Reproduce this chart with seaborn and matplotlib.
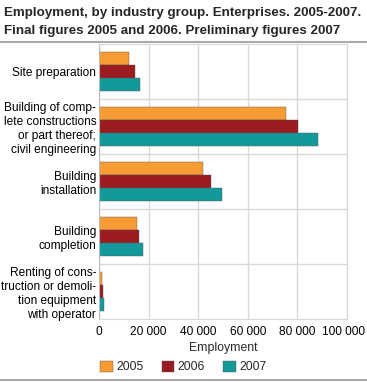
import pandas as pd
import numpy as np
import matplotlib.pyplot as plt
import matplotlib.transforms as mtransforms
import seaborn as sns

# data
industries = [
    "Site preparation",
    "Building of comp-\nlete constructions\nor part thereof;\ncivil engineering",
    "Building\ninstallation",
    "Building\ncompletion",
    "Renting of cons-\ntruction or demoli-\ntion equipment\nwith operator",
]
years = ["2005", "2006", "2007"]
emp_2005 = [12200, 75300, 42100, 15500, 1300]
emp_2006 = [14400, 80400, 45300, 16300, 1700]
emp_2007 = [16700, 88400, 49500, 17600, 2000]
colors = ["#F79B35", "#9A1B20", "#14999A"]
xticks = [0, 20000, 40000, 60000, 80000, 100000]
title_lines = [
    "Employment, by industry group. Enterprises. 2005-2007.",
    "Final figures 2005 and 2006. Preliminary figures 2007",
]


def main():
    df = pd.DataFrame({
        "industry": industries * 3,
        "year": [y for y in years for _ in industries],
        "employment": emp_2005 + emp_2006 + emp_2007,
    })

    sns.set_style("white")
    plt.rcParams["font.family"] = ["Liberation Sans", "DejaVu Sans"]

    fig = plt.figure(figsize=(3.67, 3.82), dpi=100)
    ax = fig.add_axes([99 / 367, 1 - 319 / 382, 248 / 367, 275 / 382])

    sns.barplot(
        data=df, y="industry", x="employment", hue="year",
        palette=colors, order=industries, hue_order=years,
        width=0.71, orient="h", ax=ax, legend=True,
        edgecolor="#555555", linewidth=0.3, saturation=1,
    )

    ax.set_xlim(0, 100000)
    ax.set_xticks(xticks)
    ax.set_xticklabels(["0" if t == 0 else f"{t:,}".replace(",", " ") for t in xticks])
    ax.set_ylim(len(industries) - 0.5, -0.5)
    ax.xaxis.grid(True, color="#d9d9d9", linewidth=1)
    for b in np.arange(0.5, len(industries) - 1, 1):
        ax.axhline(b, color="#d9d9d9", linewidth=1, zorder=0)
    ax.set_axisbelow(True)
    for s in ["top", "right", "bottom"]:
        ax.spines[s].set_color("#d9d9d9")
    ax.spines["left"].set_color("#bbbbbb")
    ax.tick_params(axis="y", length=0, labelsize=8.6, colors="black", pad=2)
    ax.tick_params(axis="x", length=0, labelsize=8.6, colors="black", pad=5)
    # keep the last tick label inside the figure
    last = ax.get_xticklabels()[-1]
    last.set_transform(last.get_transform() + mtransforms.ScaledTranslation(-4 / 100, 0, fig.dpi_scale_trans))
    ax.set_ylabel("")
    ax.set_xlabel("Employment", fontsize=8.8, labelpad=3)

    handles, labels = ax.get_legend_handles_labels()
    ax.get_legend().remove()
    fig.legend(
        handles, labels, loc="center", bbox_to_anchor=(0.5, 1 - 367 / 382),
        ncol=3, frameon=False, fontsize=8.8, handlelength=1.0, handleheight=1.0,
        handletextpad=0.3, columnspacing=1.5,
    )

    for line, base in zip(title_lines, [16, 34]):
        fig.text(0.01, 1 - base / 382, line, ha="left", va="baseline",
                 fontsize=9.6, fontweight="bold")
    fig.add_artist(plt.Line2D([0, 1], [1 - 42 / 382] * 2, color="#aaaaaa", linewidth=1.5))
    fig.add_artist(plt.Line2D([0, 1], [1 - 380 / 382] * 2, color="#aaaaaa", linewidth=1.5))

    fig.savefig("out.png", dpi=100)
    plt.close()


if __name__ == "__main__":
    main()
